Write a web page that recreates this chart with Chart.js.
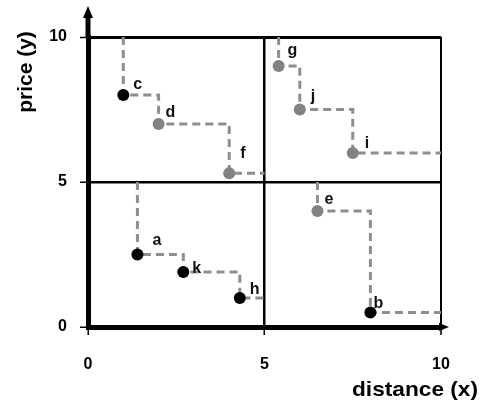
<!DOCTYPE html>
<html>
<head>
<meta charset="utf-8">
<script src="https://cdn.jsdelivr.net/npm/chart.js@4"></script>
<style>
  html, body { margin: 0; padding: 0; background: #fff; }
</style>
</head>
<body>
<canvas id="chart" width="485" height="403"></canvas>
<script>
// Staircase in each quadrant: distance (x), price (y), point names
const nwX = [1, 2, 4];
const nwY = [8, 7, 5.3];
const nwNames = ['c', 'd', 'f'];

const neX = [5.4, 6, 7.5];
const neY = [9, 7.5, 6];
const neNames = ['g', 'j', 'i'];

const swX = [1.4, 2.7, 4.3];
const swY = [2.5, 1.9, 1.0];
const swNames = ['a', 'k', 'h'];

const seX = [6.5, 8];
const seY = [4, 0.5];
const seNames = ['e', 'b'];

const xTicks = [0, 5, 10];
const yTicks = [0, 5, 10];

// points drawn in black; the rest are grey
const darkPoints = ['c', 'a', 'k', 'h', 'b'];

// quadrant bounds: [top price, right distance]
const nwBounds = [10, 5];
const neBounds = [10, 10];
const swBounds = [5, 5];
const seBounds = [5, 10];

const INK = '#000';
const DASH = '#8e8e8e';
const DOT = '#828282';
const FONT = '"Liberation Sans", Arial, sans-serif';

// letter placement relative to its dot (px)
const nudge = {
  c: [10, -6], d: [7, -7], f: [11, -15],
  g: [9, -11], j: [11, -9], i: [12, -5],
  a: [15, -10], k: [9, 1], h: [10, -4],
  e: [7, -7], b: [3, -5]
};

function stairs(xs, ys, bounds) {
  const pts = [{ x: xs[0], y: bounds[0] }];
  xs.forEach((x, i) => pts.push({ x: x, y: ys[i] }));
  pts.push({ x: bounds[1], y: ys[ys.length - 1] });
  return pts;
}

const quadrants = [
  [nwX, nwY, nwNames, nwBounds],
  [neX, neY, neNames, neBounds],
  [swX, swY, swNames, swBounds],
  [seX, seY, seNames, seBounds]
];

const datasets = [];
const dots = [];
quadrants.forEach(([xs, ys, names, bounds]) => {
  datasets.push({
    data: stairs(xs, ys, bounds),
    stepped: 'before',
    borderColor: DASH,
    borderWidth: 3,
    borderDash: [8, 5],
    pointRadius: 0,
    fill: false,
    clip: false,
    order: 2
  });
  xs.forEach((x, i) => dots.push({ x: x, y: ys[i], name: names[i] }));
});
datasets.push({
  data: dots,
  showLine: false,
  pointRadius: 6,
  pointHoverRadius: 6,
  pointBorderWidth: 0,
  pointBackgroundColor: ctx => darkPoints.includes(ctx.raw && ctx.raw.name) ? INK : DOT,
  clip: false,
  order: 0
});

const letterPlugin = {
  id: 'letters',
  afterDatasetsDraw(chart) {
    const ctx = chart.ctx;
    const xs = chart.scales.x, ys = chart.scales.y;
    ctx.save();
    ctx.font = 'bold 16px ' + FONT;
    ctx.fillStyle = '#111';
    ctx.textAlign = 'left';
    ctx.textBaseline = 'alphabetic';
    dots.forEach(p => {
      const n = nudge[p.name] || [9, -6];
      ctx.fillText(p.name, xs.getPixelForValue(p.x) + n[0], ys.getPixelForValue(p.y) + n[1]);
    });
    ctx.restore();
  }
};

const framePlugin = {
  id: 'frame',
  afterDraw(chart) {
    const ctx = chart.ctx;
    const a = chart.chartArea;
    ctx.save();
    ctx.fillStyle = INK;
    ctx.strokeStyle = INK;
    // vertical axis arrow
    ctx.lineWidth = 5;
    ctx.beginPath();
    ctx.moveTo(a.left, a.top);
    ctx.lineTo(a.left, 16);
    ctx.stroke();
    ctx.beginPath();
    ctx.moveTo(a.left, 6);
    ctx.lineTo(a.left - 5, 18);
    ctx.lineTo(a.left + 5, 18);
    ctx.closePath();
    ctx.fill();
    // horizontal axis arrow
    ctx.beginPath();
    ctx.moveTo(a.right - 2, a.bottom - 4);
    ctx.lineTo(a.right + 8, a.bottom);
    ctx.lineTo(a.right - 2, a.bottom + 4);
    ctx.closePath();
    ctx.fill();

    // axis titles
    ctx.font = 'bold 21px ' + FONT;
    ctx.textAlign = 'center';
    ctx.textBaseline = 'middle';
    ctx.save();
    ctx.translate(26, 72);
    ctx.rotate(-Math.PI / 2);
    ctx.fillText('price (y)', 0, 0);
    ctx.restore();
    ctx.save();
    ctx.translate(415, 390);
    ctx.scale(1.08, 1);
    ctx.fillText('distance (x)', 0, 0);
    ctx.restore();
    ctx.restore();
  }
};

const tickFont = { family: FONT, size: 16, weight: 'bold' };

new Chart(document.getElementById('chart'), {
  type: 'line',
  data: { datasets: datasets },
  options: {
    responsive: false,
    animation: false,
    devicePixelRatio: 1,
    events: [],
    layout: { padding: { top: 37, right: 44, left: 0, bottom: 0 } },
    plugins: { legend: { display: false }, tooltip: { enabled: false } },
    scales: {
      x: {
        type: 'linear',
        min: 0,
        max: 10,
        afterBuildTicks: s => { s.ticks = xTicks.map(v => ({ value: v })); },
        afterFit: s => { s.height = 76; },
        ticks: { color: INK, font: tickFont, padding: 20, maxRotation: 0 },
        grid: {
          color: c => c.tick && c.tick.value === 0 ? 'rgba(0,0,0,0)' : INK,
          lineWidth: c => c.tick && c.tick.value === 10 ? 2 : 2.5,
          tickColor: INK,
          tickLength: 8,
          tickWidth: 1.5
        },
        border: { display: true, color: INK, width: 5 }
      },
      y: {
        type: 'linear',
        min: 0,
        max: 10,
        afterBuildTicks: s => { s.ticks = yTicks.map(v => ({ value: v })); },
        afterFit: s => { s.width = 88; },
        ticks: { color: INK, font: tickFont, padding: 13 },
        grid: {
          color: c => c.tick && c.tick.value === 0 ? 'rgba(0,0,0,0)' : INK,
          lineWidth: c => c.tick && c.tick.value === 10 ? 3 : 2.5,
          tickColor: INK,
          tickLength: 8,
          tickWidth: 1.5
        },
        border: { display: true, color: INK, width: 5 }
      }
    }
  },
  plugins: [letterPlugin, framePlugin]
});
</script>
</body>
</html>
